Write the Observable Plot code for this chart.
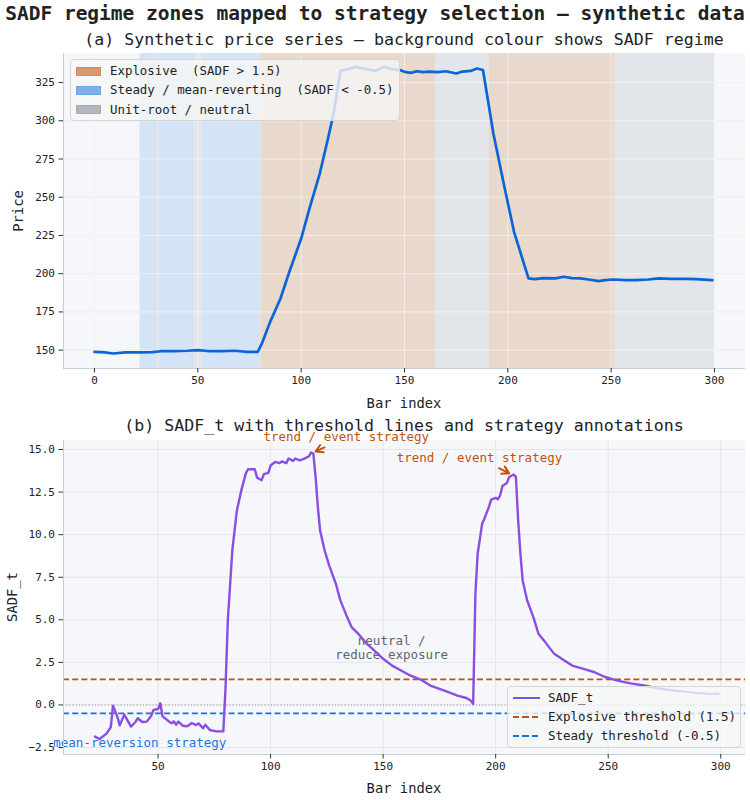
<!DOCTYPE html>
<html>
<head>
<meta charset="utf-8">
<script src="https://cdn.jsdelivr.net/npm/d3@7"></script>
<script src="https://cdn.jsdelivr.net/npm/@observablehq/plot@0.6"></script>
<style>
  body { margin: 0; background: #ffffff; font-family: "DejaVu Sans Mono", monospace; color: #222; }
  #fig { position: relative; width: 750px; height: 800px; overflow: hidden; }
  .abs { position: absolute; white-space: pre; }
  .title { left: 0; width: 750px; text-align: center; font-weight: bold; font-size: 19.5px; line-height: 22px; top: 3px; color: #222; }
  .sub { left: 63px; width: 682px; text-align: center; font-size: 16.6px; line-height: 14px; color: #222; }
  .axlab { font-size: 13.8px; line-height: 16px; color: #222; }
  .legend { background: rgba(246,246,246,0.8); border: 1px solid #d6d6d6; border-radius: 4px; font-size: 12.4px; color: #222; box-sizing: border-box; }
  .row { position: absolute; left: 0; height: 16px; line-height: 16px; white-space: pre; }
  .patch { position: absolute; width: 25px; height: 9px; box-sizing: border-box; }
  .hline { position: absolute; width: 27px; height: 0; }
</style>
</head>
<body>
<div id="fig"></div>
<script>
// ---------------- data ----------------
const priceBar = [0,5,9,15,22,28,32,39,45,50,56,62,68,74,79,81,85,90,94,100,104,109,113,116,119,124,126,130,134,136,140,144,148,150,153,156,159,162,166,170,175,178,182,185,187,188,193,198,203,210,213,217,223,227,231,235,239,244,247,251,257,262,268,273,279,285,291,299];
const priceVal = [148.9,148.5,147.8,148.5,148.5,148.7,149.3,149.3,149.6,150,149.3,149.3,149.6,148.9,148.9,154.4,168.5,183.8,200.1,223,242.5,265.5,288.4,306.9,332.6,334.2,335.3,334.2,333.1,332.6,335.3,333.7,333.1,332,331.3,332.4,331.8,332.2,331.8,332.4,330.9,332.2,332.6,334.2,333.5,333.1,291.7,259,227.4,196.9,196.4,197.1,196.9,198,197.1,196.9,196.2,195.1,195.8,196.2,195.8,195.8,196.2,196.9,196.6,196.6,196.4,195.8];

const sadfBar = [22,24,27,29,30,32,33,35,38,40,41,43,45,47,48,50,51,52,54,56,57,58,59,61,63,65,67,68,70,71,73,76,79,80,81,83,85,87,89,90,93,94,96,97,99,100,102,104,105,107,108,110,111,113,115,117,118,119,120,121,122,124,126,129,131,134,136,139,142,146,150,154,158,162,167,171,175,179,183,187,189,190,191,192,194,195,197,198,200,201,202,203,205,206,208,209,210,211,212,214,217,219,222,226,230,234,239,244,248,254,260,266,271,277,283,289,295,299];
const sadfVal = [-1.86,-2.0,-1.7,-1.31,-0.04,-0.73,-1.2,-0.57,-1.27,-1.0,-0.78,-1.0,-0.98,-0.63,-0.29,-0.24,0.1,-0.67,-0.88,-1.08,-0.96,-1.16,-0.98,-1.22,-1.25,-1.06,-1.18,-1.08,-1.37,-1.16,-1.47,-1.55,-1.55,1.04,4.96,9.08,11.4,12.6,13.6,13.84,13.84,13.35,13.2,13.55,13.63,14.06,14.27,14.2,14.3,14.2,14.47,14.33,14.47,14.37,14.47,14.6,14.82,14.76,13.4,11.63,10.25,9.08,8.2,7.12,6.14,5.16,4.57,4.18,3.69,3.2,2.71,2.31,2.02,1.73,1.47,1.14,0.94,0.75,0.55,0.41,0.25,0.06,6.53,8.88,10.65,10.94,11.63,12.06,12.16,12.08,12.31,12.86,13.04,13.39,13.53,13.39,10.84,8.88,7.31,6.14,5.06,4.18,3.69,3.0,2.65,2.31,2.12,1.92,1.67,1.43,1.27,1.14,1.0,0.88,0.8,0.71,0.65,0.65];

const regimeStart = [22, 30, 31.5, 48.5, 52, 80.5, 165, 191, 252];
const regimeEnd   = [30, 31.5, 48.5, 52, 80.5, 165, 191, 252, 300];
const regimeType  = ["steady","neutral","steady","neutral","steady","explosive","neutral","explosive","neutral"];

const thresholdExplosive = 1.5;
const thresholdSteady = -0.5;

const xTicksTop = [0,50,100,150,200,250,300];
const yTicksTop = [150,175,200,225,250,275,300,325];
const xTicksBot = [50,100,150,200,250,300];
const yTicksBot = [-2.5,0,2.5,5,7.5,10,12.5,15];

// annotations: text position and target point (data coordinates)
const annoText = ["trend / event strategy", "trend / event strategy"];
const annoTextX = [133.6, 192.8];
const annoTextY = [15.72, 14.49];
const annoTipX = [120, 206];
const annoTipY = [14.88, 13.6];

const neutralLabel = "neutral /\nreduce exposure";
const neutralLabelX = 153.8, neutralLabelY = 3.38;
const mrLabel = "mean-reversion strategy";
const mrLabelX = 41.9, mrLabelY = -2.21;

// ---------------- styles ----------------
const bandColor = { explosive: "#e9d8cc", steady: "#d4e3f5", neutral: "#e2e6ea" };
const FONT = "DejaVu Sans Mono";
const ORANGE = "#c4520b";
const BLUE = "#1a6fe0";
const PURPLE = "#8a4fe0";

const price = priceBar.map((b, i) => ({ bar: b, price: priceVal[i] }));
const sadf = sadfBar.map((b, i) => ({ bar: b, v: sadfVal[i] }));
const regimes = regimeStart.map((s, i) => ({ start: s, end: regimeEnd[i], regime: regimeType[i] }));
const annos = annoText.map((t, i) => ({ t, tx: annoTextX[i], ty: annoTextY[i], px: annoTipX[i], py: annoTipY[i] }));

const fig = document.getElementById("fig");
function addDiv(cls, text, css) {
  const d = document.createElement("div");
  d.className = "abs " + cls;
  d.textContent = text;
  Object.assign(d.style, css || {});
  fig.appendChild(d);
  return d;
}

// ---------------- top panel ----------------
const topPlot = Plot.plot({
  width: 750, height: 370,
  marginTop: 5, marginBottom: 50, marginLeft: 63, marginRight: 5,
  style: { background: "transparent", fontFamily: FONT, fontSize: "11px", color: "#222", overflow: "visible" },
  x: { domain: [-15, 315] },
  y: { domain: [138, 344] },
  color: { type: "identity" },
  marks: [
    Plot.frame({ fill: "#f5f7fa", stroke: null }),
    Plot.gridX(xTicksTop, { stroke: "#e1e4e9", strokeOpacity: 1 }),
    Plot.gridY(yTicksTop, { stroke: "#e1e4e9", strokeOpacity: 1 }),
    Plot.rect(regimes, { x1: "start", x2: "end", fill: d => bandColor[d.regime] }),
    Plot.gridX(xTicksTop, { stroke: "#ffffff", strokeOpacity: 0.5 }),
    Plot.gridY(yTicksTop, { stroke: "#ffffff", strokeOpacity: 0.5 }),
    Plot.line(price, { x: "bar", y: "price", stroke: "#0a66d6", strokeWidth: 2.7 }),
    Plot.ruleX([-15], { stroke: "#c9ced6" }),
    Plot.ruleY([138], { stroke: "#c9ced6" }),
    Plot.axisX(xTicksTop, { tickSize: 4.5, tickPadding: 3, label: null, stroke: "#333", tickFormat: d => String(d) }),
    Plot.axisY(yTicksTop, { tickSize: 4.5, tickPadding: 4, label: null, stroke: "#333", tickFormat: d => String(d) })
  ]
});
topPlot.style.position = "absolute";
topPlot.style.left = "0px";
topPlot.style.top = "48px";
fig.appendChild(topPlot);

// ---------------- bottom panel ----------------
const fmt = d => d.toFixed(1).replace("-", "\u2212");
const botPlot = Plot.plot({
  width: 750, height: 380,
  marginTop: 20, marginBottom: 46, marginLeft: 63, marginRight: 5,
  style: { background: "transparent", fontFamily: FONT, fontSize: "11px", color: "#222", overflow: "visible" },
  x: { domain: [8, 311] },
  y: { domain: [-2.91, 15.53] },
  marks: [
    Plot.frame({ fill: "#f5f7fa", stroke: null }),
    Plot.gridX(xTicksBot, { stroke: "#e3e6eb", strokeOpacity: 1 }),
    Plot.gridY(yTicksBot, { stroke: "#e3e6eb", strokeOpacity: 1 }),
    Plot.ruleY([0], { stroke: "#8c9198", strokeWidth: 1, strokeDasharray: "1,2.2" }),
    Plot.ruleY([thresholdExplosive], { stroke: ORANGE, strokeWidth: 1.8, strokeDasharray: "6,3.2" }),
    Plot.ruleY([thresholdSteady], { stroke: BLUE, strokeWidth: 1.8, strokeDasharray: "6,3.2" }),
    Plot.text([neutralLabel], { x: neutralLabelX, y: neutralLabelY, text: d => d, fill: "#60656c", fontSize: 12.5, lineHeight: 1.12, textAnchor: "middle" }),
    Plot.text([mrLabel], { x: mrLabelX, y: mrLabelY, text: d => d, fill: "#1a73e8", fontSize: 12.5, textAnchor: "middle" }),
    Plot.line(sadf, { x: "bar", y: "v", stroke: PURPLE, strokeWidth: 2.4 }),
    Plot.text(annos, { x: "tx", y: "ty", text: "t", fill: ORANGE, fontSize: 12.5, textAnchor: "middle" }),
    Plot.arrow([annos[0]], { x1: "tx", y1: "ty", x2: "px", y2: "py", stroke: ORANGE, strokeWidth: 2, headLength: 6, insetStart: 24, insetEnd: 0 }),
    Plot.arrow([annos[1]], { x1: "tx", y1: "ty", x2: "px", y2: "py", stroke: ORANGE, strokeWidth: 2, headLength: 6, insetStart: 22, insetEnd: 0 }),
    Plot.ruleX([8], { stroke: "#c9ced6" }),
    Plot.ruleY([-2.91], { stroke: "#c9ced6" }),
    Plot.axisX(xTicksBot, { tickSize: 4.5, tickPadding: 3, label: null, stroke: "#333", tickFormat: d => String(d) }),
    Plot.axisY(yTicksBot, { tickSize: 4.5, tickPadding: 4, label: null, stroke: "#333", tickFormat: fmt })
  ]
});
botPlot.style.position = "absolute";
botPlot.style.left = "0px";
botPlot.style.top = "420px";

// ---------------- titles & labels ----------------
addDiv("title", "SADF regime zones mapped to strategy selection \u2014 synthetic data");
addDiv("sub", "(a) Synthetic price series \u2014 background colour shows SADF regime", { top: "33px" });
addDiv("sub", "(b) SADF_t with threshold lines and strategy annotations", { top: "419px" });
fig.appendChild(botPlot);
addDiv("axlab", "Bar index", { left: "63px", width: "682px", textAlign: "center", top: "395px" });
addDiv("axlab", "Bar index", { left: "63px", width: "682px", textAlign: "center", top: "780px" });
addDiv("axlab", "Price", { left: "18px", top: "211px", transform: "translate(-50%,-50%) rotate(-90deg)" });
addDiv("axlab", "SADF_t", { left: "12px", top: "597px", transform: "translate(-50%,-50%) rotate(-90deg)" });

// ---------------- legends ----------------
const legTop = document.createElement("div");
legTop.className = "abs legend";
Object.assign(legTop.style, { left: "70px", top: "59px", width: "330px", height: "62px" });
const topItems = [
  ["Explosive  (SADF > 1.5)", "#d99a70", "#cf8c5f"],
  ["Steady / mean-reverting  (SADF < -0.5)", "#7fb0ea", "#6fa3e2"],
  ["Unit-root / neutral", "#b2b6ba", "#a6aaae"]
];
topItems.forEach((it, i) => {
  const cy = 11 + i * 19.4;
  const p = document.createElement("div");
  p.className = "patch";
  Object.assign(p.style, { left: "5px", top: (cy - 4.5) + "px", background: it[1], border: "1px solid " + it[2] });
  legTop.appendChild(p);
  const r = document.createElement("div");
  r.className = "row";
  Object.assign(r.style, { left: "39px", top: (cy - 8) + "px" });
  r.textContent = it[0];
  legTop.appendChild(r);
});
fig.appendChild(legTop);

const legBot = document.createElement("div");
legBot.className = "abs legend";
Object.assign(legBot.style, { left: "507px", top: "686px", width: "234px", height: "62px", fontSize: "12.5px" });
const botItems = [
  ["SADF_t", PURPLE, "solid", 2.6],
  ["Explosive threshold (1.5)", ORANGE, "dashed", 2],
  ["Steady threshold (-0.5)", BLUE, "dashed", 2]
];
botItems.forEach((it, i) => {
  const cy = 11 + i * 19.2;
  const l = document.createElement("div");
  l.className = "hline";
  if (it[2] === "solid") {
    Object.assign(l.style, { left: "5px", top: (cy - it[3] / 2) + "px", borderTop: it[3] + "px solid " + it[1] });
  } else {
    Object.assign(l.style, { left: "5px", top: (cy - 1) + "px", height: "2px",
      background: `repeating-linear-gradient(90deg, ${it[1]} 0 6px, transparent 6px 9.5px)` });
  }
  legBot.appendChild(l);
  const r = document.createElement("div");
  r.className = "row";
  Object.assign(r.style, { left: "40px", top: (cy - 8) + "px" });
  r.textContent = it[0];
  legBot.appendChild(r);
});
fig.appendChild(legBot);
</script>
</body>
</html>
